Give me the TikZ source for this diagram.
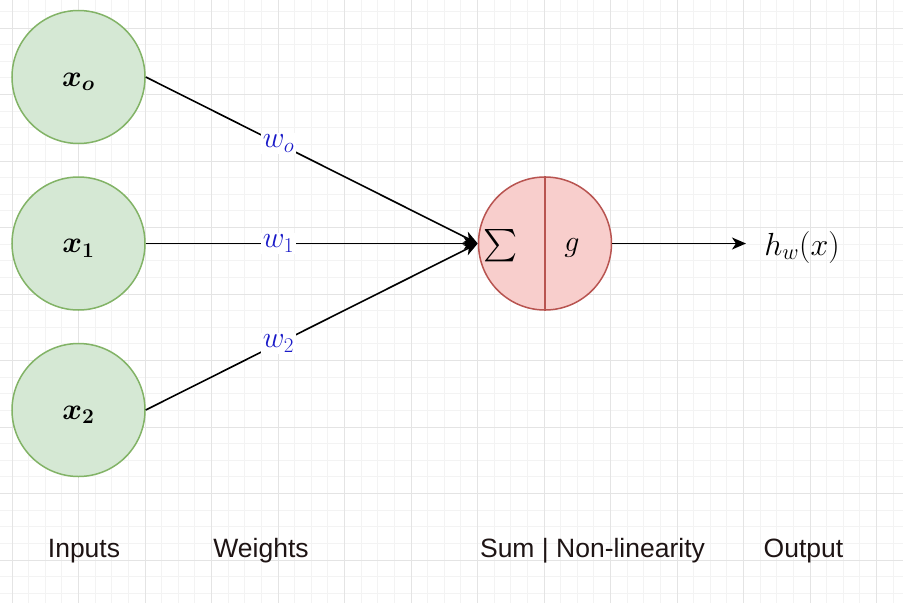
\RequirePackage{fix-cm}
\documentclass[tikz,border=0pt]{standalone}
\usepackage{fontspec}
\setsansfont{Liberation Sans}
\usepackage{amsmath}
\usepackage{bm}
\usetikzlibrary{arrows.meta}
\definecolor{gfill}{HTML}{D5E8D4}
\definecolor{gline}{HTML}{82B366}
\definecolor{rfill}{HTML}{F8CECC}
\definecolor{rline}{HTML}{B85450}
\definecolor{wblue}{HTML}{1A1AC8}
\definecolor{gridmaj}{HTML}{E4E4E4}
\definecolor{gridmin}{HTML}{F3F3F3}
\definecolor{txt}{HTML}{1E1414}
\tikzset{
  inputnode/.style={circle, draw=gline, fill=gfill, line width=1.5pt, minimum size=133pt, inner sep=0pt},
  sumnode/.style={circle, draw=rline, fill=rfill, line width=1.5pt, minimum size=133pt, inner sep=0pt},
  conn/.style={line width=1.6pt, black},
  tipa/.style={-{Stealth[length=14pt,width=12pt,inset=4pt]}},
  wlabel/.style={fill=white, inner sep=1.5pt, text=wblue, font=\fontsize{30}{36}\selectfont},
  caption/.style={anchor=base, text=txt, font=\sffamily\fontsize{26.5}{30}\selectfont},
  mathtxt/.style={font=\fontsize{30}{36}\selectfont},
}
\begin{document}
\begin{tikzpicture}[x=1pt,y=-1pt]
\useasboundingbox (0,0) rectangle (903,603);
\fill[white] (0,0) rectangle (903,603);
% minor grid
\foreach \i in {-1,...,54} {
  \draw[gridmin, line width=0.8pt] ({12+\i*16.625},0) -- ({12+\i*16.625},603);
}
\foreach \i in {-2,...,35} {
  \draw[gridmin, line width=0.8pt] (0,{28+\i*16.625}) -- (903,{28+\i*16.625});
}
% major grid
\foreach \i in {0,...,13} {
  \draw[gridmaj, line width=1pt] ({12+\i*66.5},0) -- ({12+\i*66.5},603);
}
\foreach \i in {0,...,8} {
  \draw[gridmaj, line width=1pt] (0,{28+\i*66.5}) -- (903,{28+\i*66.5});
}
% input nodes
\node[inputnode] (x0) at (78.5,77) {};
\node[inputnode] (x1) at (78.5,243.5) {};
\node[inputnode] (x2) at (78.5,410) {};
\node[mathtxt] (lx0) at ([yshift=-5pt]x0.center) {$\bm{x_o}$};
\node[mathtxt] (lx1) at ([yshift=-5pt]x1.center) {$\bm{x_1}$};
\node[mathtxt] (lx2) at ([yshift=-5pt]x2.center) {$\bm{x_2}$};
% sum node
\node[sumnode] (s) at (545,243.5) {};
\coordinate (sin) at (s.west);
\draw[rline, line width=1.5pt] (s.north) -- (s.south);
\node[mathtxt] (sig) at (501,246) {\scalebox{1.3}{$\textstyle\sum$}};
\node[mathtxt] (g) at (572,248) {$g$};
% connectors
\draw[conn, tipa] (x0.east) -- node[wlabel, pos=0.4] (w0) {$w_o$} (sin);
\draw[conn, tipa] (x1.east) -- node[wlabel, pos=0.4] (w1) {$w_1$} (sin);
\draw[conn, tipa] (x2.east) -- node[wlabel, pos=0.4] (w2) {$w_2$} (sin);
% output
\node[inner sep=2pt, font=\fontsize{32}{38}\selectfont] (out) at (802,247) {$h_w(x)$};
\coordinate (outend) at (746,243.5);
\draw[conn, tipa] (s.east) -- (outend);
% captions
\node[caption] (c1) at (84,557) {Inputs};
\node[caption] (c2) at (261,557) {Weights};
\node[caption] (c3) at (592.5,557) {Sum | Non-linearity};
\node[caption] (c4) at (803.5,557) {Output};
\end{tikzpicture}
\end{document}
